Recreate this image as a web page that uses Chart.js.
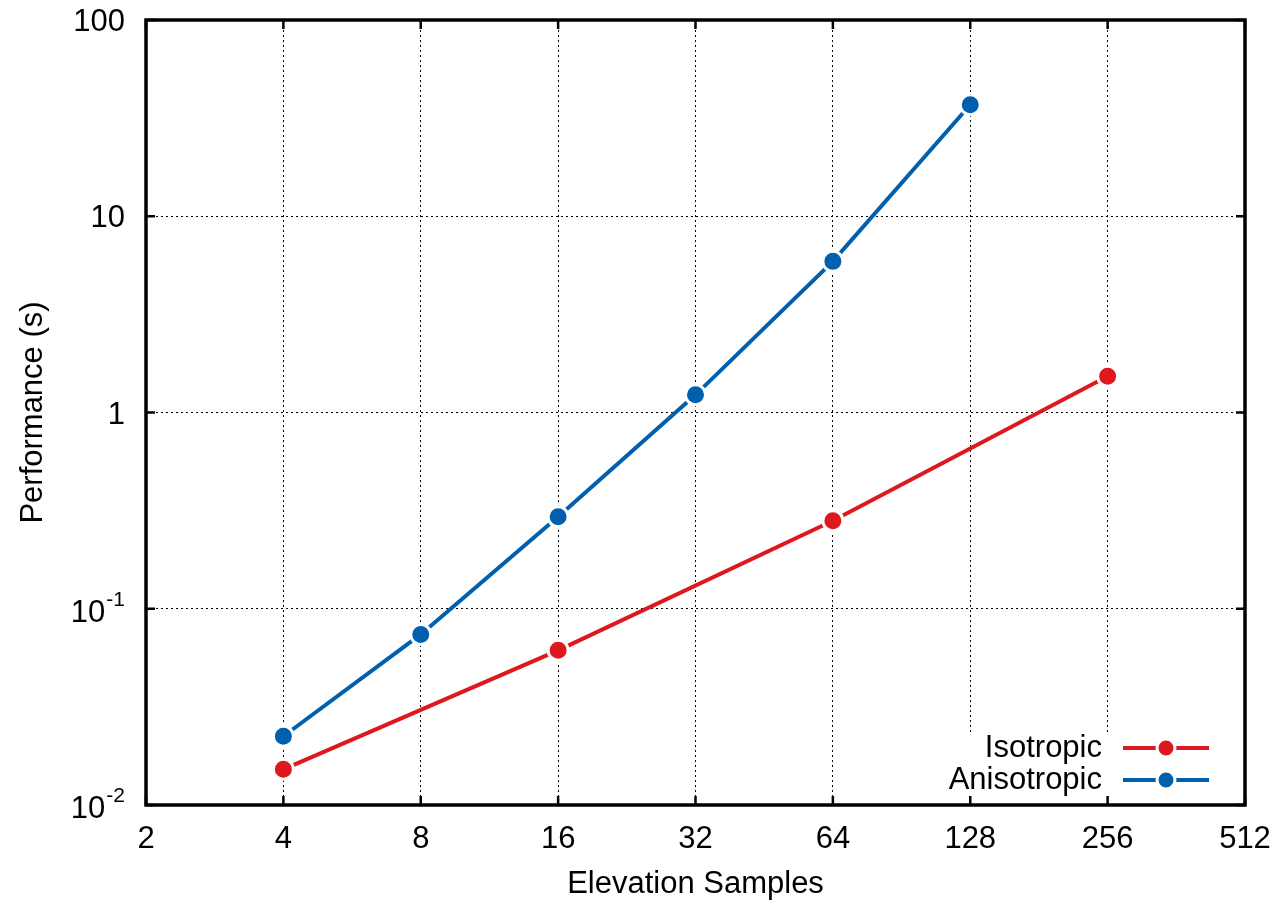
<!DOCTYPE html>
<html>
<head>
<meta charset="utf-8">
<script src="https://cdn.jsdelivr.net/npm/chart.js@4.4.1/dist/chart.umd.min.js"></script>
<style>
html, body { margin: 0; padding: 0; background: #fff; }
</style>
</head>
<body>
<canvas id="myChart" width="1283" height="905"></canvas>
<script>
// data
const isoSamples = [4, 16, 64, 256];
const isoTimes = [0.0152, 0.0614, 0.281, 1.53];
const anisoSamples = [4, 8, 16, 32, 64, 128];
const anisoTimes = [0.0224, 0.074, 0.294, 1.23, 5.89, 37.0];

const xTicks = [2, 4, 8, 16, 32, 64, 128, 256, 512];
const yTicks = [0.01, 0.1, 1, 10, 100];
const yTickLabels = [['10', '-2'], ['10', '-1'], ['1', ''], ['10', ''], ['100', '']];

const RED = '#dd181f';
const BLUE = '#0060ad';
const FONT = '"Liberation Sans", Arial, sans-serif';
const FSIZE = 31;

function pts(xs, ys) {
    return xs.map((x, i) => ({ x: x, y: ys[i] }));
}

var canvas = document.getElementById('myChart');
var ctx = canvas.getContext('2d');

// frame, inward ticks, y labels with exponents, legend box
const gnuplotLook = {
    id: 'gnuplotLook',
    afterDatasetsDraw(chart) {
        const c = chart.ctx;
        const ca = chart.chartArea;
        c.save();
        // legend box (covers the grid)
        c.fillStyle = '#fff';
        c.fillRect(ca.right - 310, ca.bottom - 72, 310, 72);
        const textRight = ca.right - 143;
        chart.data.datasets.forEach((ds, i) => {
            const y = ca.bottom - 57 + i * 32;
            c.fillStyle = '#000';
            c.font = FSIZE + 'px ' + FONT;
            c.textAlign = 'right';
            c.textBaseline = 'middle';
            c.fillText(ds.label, textRight, y);
            c.strokeStyle = ds.borderColor;
            c.lineWidth = 4;
            c.beginPath();
            c.moveTo(ca.right - 122, y);
            c.lineTo(ca.right - 36, y);
            c.stroke();
            c.beginPath();
            c.arc(ca.right - 79, y, 9, 0, Math.PI * 2);
            c.fillStyle = ds.borderColor;
            c.fill();
            c.lineWidth = 3;
            c.strokeStyle = '#fff';
            c.stroke();
        });
        c.restore();
    },
    afterDraw(chart) {
        const c = chart.ctx;
        const ca = chart.chartArea;
        const xs = chart.scales.x;
        const ys = chart.scales.y;
        c.save();
        c.strokeStyle = '#000';
        c.lineWidth = 3.5;
        c.strokeRect(ca.left, ca.top, ca.right - ca.left, ca.bottom - ca.top);
        c.lineWidth = 2.5;
        c.beginPath();
        xTicks.forEach(v => {
            const px = xs.getPixelForValue(v);
            c.moveTo(px, ca.bottom);
            c.lineTo(px, ca.bottom - 9);
            c.moveTo(px, ca.top);
            c.lineTo(px, ca.top + 9);
        });
        yTicks.forEach(v => {
            const py = ys.getPixelForValue(v);
            c.moveTo(ca.left, py);
            c.lineTo(ca.left + 9, py);
            c.moveTo(ca.right, py);
            c.lineTo(ca.right - 9, py);
        });
        c.stroke();

        // y tick labels
        c.fillStyle = '#000';
        c.textAlign = 'right';
        c.textBaseline = 'alphabetic';
        const labelRight = ca.left - 21;
        yTicks.forEach((v, i) => {
            const py = ys.getPixelForValue(v);
            const base = yTickLabels[i][0];
            const sup = yTickLabels[i][1];
            if (sup) {
                c.font = '21px ' + FONT;
                const w = c.measureText(sup).width;
                c.fillText(sup, labelRight, py - 3);
                c.font = FSIZE + 'px ' + FONT;
                c.fillText(base, labelRight - w - 1, py + 13);
            } else {
                c.font = FSIZE + 'px ' + FONT;
                c.fillText(base, labelRight, py + 11);
            }
        });
        c.restore();
    }
};

var chart = new Chart(ctx, {
    type: 'line',
    data: {
        datasets: [{
            label: 'Isotropic',
            data: pts(isoSamples, isoTimes),
            borderColor: RED,
            backgroundColor: RED,
            pointBackgroundColor: RED,
            pointBorderColor: '#fff',
            pointBorderWidth: 3,
            pointRadius: 10,
            borderWidth: 4,
            tension: 0,
            fill: false
        }, {
            label: 'Anisotropic',
            data: pts(anisoSamples, anisoTimes),
            borderColor: BLUE,
            backgroundColor: BLUE,
            pointBackgroundColor: BLUE,
            pointBorderColor: '#fff',
            pointBorderWidth: 3,
            pointRadius: 10,
            borderWidth: 4,
            tension: 0,
            fill: false
        }]
    },
    options: {
        responsive: false,
        animation: false,
        layout: { padding: { top: 20, right: 38, left: 0, bottom: 0 } },
        plugins: {
            legend: { display: false },
            tooltip: { enabled: false }
        },
        scales: {
            x: {
                type: 'logarithmic',
                min: 2,
                max: 512,
                afterBuildTicks: s => { s.ticks = xTicks.map(v => ({ value: v })); },
                afterFit: s => { s.height = 100; s.paddingLeft = 0; s.paddingRight = 0; },
                ticks: {
                    callback: v => String(v),
                    color: '#000',
                    font: { family: FONT, size: FSIZE },
                    padding: 16,
                    maxRotation: 0,
                    autoSkip: false
                },
                grid: { color: '#000', lineWidth: 1, drawTicks: false, borderDash: [2, 3] },
                border: { display: false, dash: [2, 3] },
                title: {
                    display: true,
                    text: 'Elevation Samples',
                    color: '#000',
                    font: { family: FONT, size: FSIZE },
                    padding: { top: 0, bottom: 2 }
                }
            },
            y: {
                type: 'logarithmic',
                min: 0.01,
                max: 100,
                afterBuildTicks: s => { s.ticks = yTicks.map(v => ({ value: v })); },
                afterFit: s => { s.width = 146; s.paddingTop = 0; s.paddingBottom = 0; },
                ticks: { display: false },
                grid: { color: '#000', lineWidth: 1, drawTicks: false, borderDash: [2, 3] },
                border: { display: false, dash: [2, 3] },
                title: {
                    display: true,
                    text: 'Performance (s)',
                    color: '#000',
                    font: { family: FONT, size: FSIZE },
                    padding: { top: 15, bottom: 0 }
                }
            }
        }
    },
    plugins: [gnuplotLook]
});
</script>
</body>
</html>
